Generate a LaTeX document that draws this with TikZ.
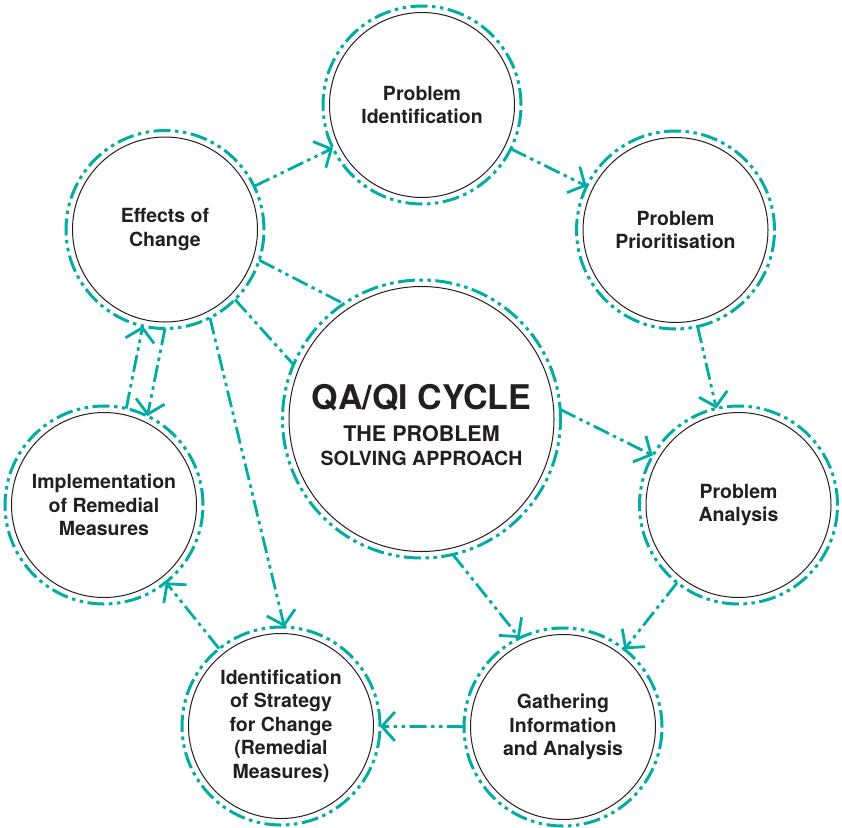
\documentclass[tikz,border=0pt]{standalone}
\usepackage{fontspec}
\setmainfont{TeX Gyre Heros}
\usetikzlibrary{arrows.meta}
\definecolor{teal1}{RGB}{0,172,163}
\definecolor{ink}{RGB}{35,31,32}
\begin{document}
\begin{tikzpicture}[x=1pt,y=-1pt,
 dashdd/.style={dash pattern=on 17pt off 4.5pt on 3.5pt off 4.5pt on 3.5pt off 4.5pt},
 bubble/.style={circle, draw=teal1, line width=3pt, dashdd, minimum size=198pt, inner sep=0pt, outer sep=0pt, align=center, font=\bfseries\fontsize{19.5}{23.5}\selectfont, text=ink},
 bigbubble/.style={bubble, minimum size=278pt},
 ring/.style={draw=ink, line width=1pt, solid},
 conn/.style={draw=teal1, line width=2.8pt, dashdd},
 arr/.style={conn, -{Straight Barb[length=13pt,width=29pt]}}]
\useasboundingbox (0,0) rectangle (842,827);
\node[bubble] (pid) at (422,105) {Problem\\Identification};
\node[bubble] (ppr) at (675.5,230) {Problem\\Prioritisation};
\node[bubble] (pan) at (738.5,505) {Problem\\Analysis};
\node[bubble] (gia) at (563,727) {Gathering\\Information\\and Analysis};
\node[bubble] (sic) at (281,726) {Identification\\of Strategy\\for Change\\(Remedial\\Measures)};
\node[bubble] (imp) at (104,505) {Implementation\\of Remedial\\Measures};
\node[bubble] (eff) at (165,229.5) {Effects of\\Change};
\node[bigbubble] (qa) at (421.5,419) {\rule{0pt}{37pt}\fontsize{34}{34}\selectfont QA/QI CYCLE\\[9pt]\fontsize{21.5}{25}\selectfont THE PROBLEM\\SOLVING APPROACH};
\foreach \n in {pid,ppr,pan,gia,sic,imp,eff} \draw[ring] (\n.center) circle[radius=92.5];
\draw[ring] (qa.center) circle[radius=132.5];
\draw[arr] (eff) -- (pid);
\draw[arr] (pid) -- (ppr);
\draw[arr] (ppr) -- (pan);
\draw[arr] (qa.4) -- (pan.150);
\draw[arr] (pan) -- (gia);
\draw[arr] (qa.-77) -- (gia.116);
\draw[arr] (gia) -- (sic);
\draw[arr] (sic) -- (imp);
\draw[arr] (imp.77) -- (eff.-103);
\draw[arr] (eff.-90) -- (imp.64);
\draw[arr] (eff.-63) -- (sic.88);
\draw[conn] (eff.-18.5) -- (qa.124);
\draw[conn] (eff.-45) -- (qa.157);
\end{tikzpicture}
\end{document}
